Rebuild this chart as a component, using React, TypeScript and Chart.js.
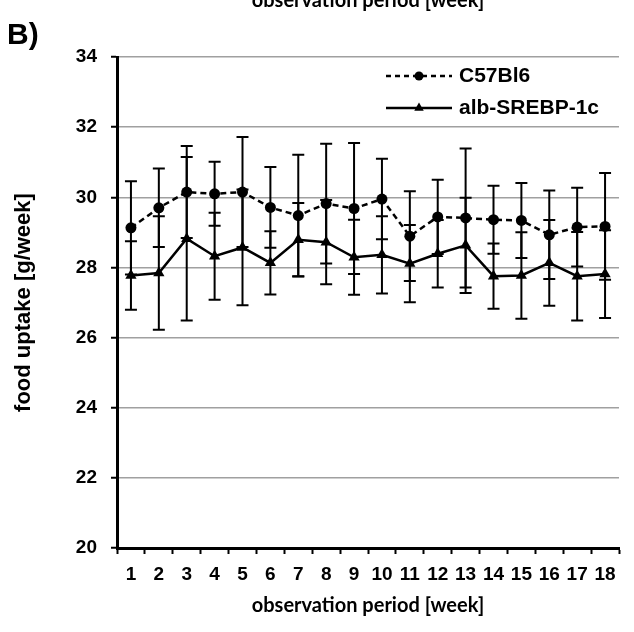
import React, { useEffect, useRef } from "react";
import { Chart, registerables } from "chart.js";

Chart.register(...registerables);

const weeks = ["1", "2", "3", "4", "5", "6", "7", "8", "9", "10", "11", "12", "13", "14", "15", "16", "17", "18"];
const c57Mean = [29.13, 29.7, 30.15, 30.1, 30.15, 29.71, 29.48, 29.82, 29.68, 29.95, 28.89, 29.44, 29.41, 29.36, 29.34, 28.93, 29.15, 29.17];
const c57SD = [1.33, 1.12, 1.31, 0.91, 1.57, 1.15, 1.73, 1.71, 1.87, 1.15, 1.28, 1.06, 1.98, 0.97, 1.07, 1.26, 1.12, 1.52];
const albMean = [27.77, 27.84, 28.82, 28.32, 28.57, 28.13, 28.79, 28.72, 28.29, 28.36, 28.11, 28.39, 28.63, 27.75, 27.77, 28.13, 27.75, 27.81];
const albSD = [0.98, 1.62, 2.33, 1.24, 1.65, 0.9, 1.05, 1.2, 1.07, 1.1, 1.1, 0.96, 1.36, 0.93, 1.23, 1.22, 1.26, 1.25];
const yTicks = [20, 22, 24, 26, 28, 30, 32, 34];
const seriesNames = ["C57Bl6", "alb-SREBP-1c"];
const xTitle = "observation period [week]";
const yTitle = "food uptake [g/week]";
const panelLabel = "B)";

const ARIAL = "'Liberation Sans', Arial, sans-serif";
const CALIBRI = "Lato, 'Open Sans', sans-serif";

function drawTriangle(ctx: CanvasRenderingContext2D, x: number, y: number, r: number) {
  ctx.beginPath();
  let rad = 0;
  const step = (Math.PI * 2) / 3;
  ctx.moveTo(x + Math.sin(rad) * r, y - Math.cos(rad) * r);
  rad += step;
  ctx.lineTo(x + Math.sin(rad) * r, y - Math.cos(rad) * r);
  rad += step;
  ctx.lineTo(x + Math.sin(rad) * r, y - Math.cos(rad) * r);
  ctx.closePath();
  ctx.fill();
}

export default function App() {
  const ref = useRef<HTMLCanvasElement>(null);

  useEffect(() => {
    const canvas = ref.current;
    if (!canvas) return;
    const sds = [c57SD, albSD];
    const means = [c57Mean, albMean];

    const overlay = {
      id: "overlay",
      beforeDatasetsDraw(chart: any) {
        const ctx = chart.ctx as CanvasRenderingContext2D;
        const xs = chart.scales.x;
        const ys = chart.scales.y;
        ctx.save();
        ctx.strokeStyle = "#000";
        ctx.lineWidth = 2;
        ctx.setLineDash([]);
        for (let s = 0; s < 2; s++) {
          for (let i = 0; i < weeks.length; i++) {
            const x = xs.getPixelForValue(i);
            const hi = ys.getPixelForValue(means[s][i] + sds[s][i]);
            const lo = ys.getPixelForValue(means[s][i] - sds[s][i]);
            ctx.beginPath();
            ctx.moveTo(x, hi);
            ctx.lineTo(x, lo);
            ctx.moveTo(x - 6, hi);
            ctx.lineTo(x + 6, hi);
            ctx.moveTo(x - 6, lo);
            ctx.lineTo(x + 6, lo);
            ctx.stroke();
          }
        }
        ctx.restore();
      },
      afterDraw(chart: any) {
        const ctx = chart.ctx as CanvasRenderingContext2D;
        const area = chart.chartArea;
        ctx.save();
        ctx.fillStyle = "#000";
        ctx.strokeStyle = "#000";

        // legend
        const lx0 = 386, lx1 = 452, tx = 459;
        const ly = [76, 108];
        ctx.lineWidth = 2.5;
        ctx.setLineDash([5, 4]);
        ctx.beginPath();
        ctx.moveTo(lx0, ly[0]);
        ctx.lineTo(lx1, ly[0]);
        ctx.stroke();
        ctx.setLineDash([]);
        ctx.beginPath();
        ctx.arc((lx0 + lx1) / 2, ly[0], 4.5, 0, Math.PI * 2);
        ctx.fill();
        ctx.beginPath();
        ctx.moveTo(lx0, ly[1]);
        ctx.lineTo(lx1, ly[1]);
        ctx.stroke();
        drawTriangle(ctx, (lx0 + lx1) / 2, ly[1], 5.5);
        ctx.font = `bold 21px ${ARIAL}`;
        ctx.textAlign = "left";
        ctx.textBaseline = "middle";
        ctx.fillText(seriesNames[0], tx, ly[0]);
        ctx.fillText(seriesNames[1], tx, ly[1]);

        // x title
        ctx.font = `bold 20px ${CALIBRI}`;
        ctx.textAlign = "center";
        ctx.textBaseline = "middle";
        const cx = (area.left + area.right) / 2;
        ctx.fillText(xTitle, cx, 606);
        // cut-off title at top
        ctx.textBaseline = "alphabetic";
        ctx.fillText(xTitle, cx, 7);

        // y title
        ctx.save();
        ctx.translate(24, (area.top + area.bottom) / 2);
        ctx.rotate(-Math.PI / 2);
        ctx.font = `bold 22px ${ARIAL}`;
        ctx.textAlign = "center";
        ctx.textBaseline = "middle";
        ctx.fillText(yTitle, 0, 0);
        ctx.restore();

        // panel label
        ctx.font = `bold 30px ${ARIAL}`;
        ctx.textAlign = "left";
        ctx.textBaseline = "alphabetic";
        ctx.fillText(panelLabel, 7, 44);
        ctx.restore();
      },
    };

    const chart = new Chart(canvas, {
      type: "line",
      data: {
        labels: weeks,
        datasets: [
          {
            label: seriesNames[0],
            data: c57Mean,
            borderColor: "#000",
            backgroundColor: "#000",
            borderWidth: 2.5,
            borderDash: [6, 4],
            pointStyle: "circle",
            pointRadius: 5.5,
            pointBorderWidth: 0,
            pointBackgroundColor: "#000",
            tension: 0,
          },
          {
            label: seriesNames[1],
            data: albMean,
            borderColor: "#000",
            backgroundColor: "#000",
            borderWidth: 2.5,
            pointStyle: "triangle",
            pointRadius: 6.5,
            pointBorderWidth: 0,
            pointBackgroundColor: "#000",
            tension: 0,
          },
        ],
      },
      options: {
        responsive: false,
        animation: false,
        devicePixelRatio: 1,
        layout: { padding: { left: 0, top: 57, right: 15, bottom: 0 } },
        plugins: { legend: { display: false }, tooltip: { enabled: false }, title: { display: false } },
        scales: {
          x: {
            type: "category",
            offset: true,
            grid: {
              offset: true,
              drawOnChartArea: false,
              drawTicks: true,
              tickLength: 6,
              tickColor: "#000",
              tickWidth: 2,
            },
            border: { display: true, color: "#000", width: 3 },
            ticks: {
              color: "#000",
              font: { family: ARIAL, weight: "bold", size: 19 },
              padding: 9,
              maxRotation: 0,
              autoSkip: false,
            },
            afterFit(scale: any) {
              scale.height = 84;
            },
          },
          y: {
            min: yTicks[0],
            max: yTicks[yTicks.length - 1],
            afterBuildTicks(scale: any) {
              scale.ticks = yTicks.map((v) => ({ value: v }));
            },
            grid: {
              color: "#a0a0a0",
              lineWidth: 1.5,
              drawTicks: true,
              tickLength: 6,
              tickColor: "#000",
              tickWidth: 2,
            },
            border: { display: true, color: "#000", width: 3 },
            ticks: {
              color: "#000",
              font: { family: ARIAL, weight: "bold", size: 19 },
              padding: 14,
            },
            afterFit(scale: any) {
              scale.width = 117;
            },
          },
        },
      },
      plugins: [overlay],
    } as any);

    return () => chart.destroy();
  }, []);

  return (
    <div style={{ position: "fixed", left: 0, top: 0, width: 634, height: 632, background: "#fff" }}>
      <canvas ref={ref} width={634} height={632} style={{ width: 634, height: 632, display: "block" }} />
    </div>
  );
}
